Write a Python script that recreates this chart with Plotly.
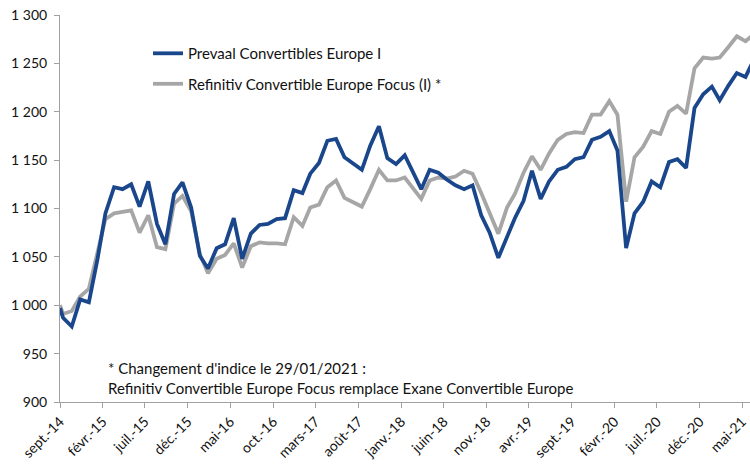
import pandas as pd
import plotly.graph_objects as go

start_date = "2014-09-19"
month_ends = pd.date_range("2014-09-30", "2021-06-30", freq="ME")
dates = [pd.Timestamp(start_date)] + list(month_ends)

prevaal = [
    997,
    987, 978, 1006, 1003,
    1048, 1095, 1122, 1120, 1125, 1102, 1128, 1084, 1063, 1115, 1127, 1101,
    1051, 1038, 1059, 1063, 1090, 1048, 1074, 1083, 1084, 1089, 1090, 1119,
    1116, 1136, 1147, 1170, 1172, 1153, 1147, 1140, 1165, 1185, 1152, 1146,
    1155, 1138, 1120, 1140, 1137, 1130, 1124, 1120, 1124, 1093, 1075, 1049,
    1070, 1090, 1108, 1139, 1110, 1128, 1140, 1143, 1151, 1153, 1171, 1174,
    1180, 1160, 1059, 1095, 1107, 1128, 1122, 1148, 1151, 1142, 1204, 1218,
    1226, 1212, 1227, 1240, 1236, 1254,
]

refinitiv = [
    1000,
    991, 994, 1009, 1017,
    1056, 1089, 1095, 1096, 1098, 1075, 1093, 1060, 1058, 1105, 1113, 1097,
    1053, 1033, 1048, 1052, 1064, 1039, 1061, 1065, 1064, 1064, 1063, 1091,
    1082, 1101, 1104, 1122, 1129, 1111, 1107, 1102, 1120, 1140, 1129, 1129,
    1132, 1122, 1110, 1129, 1132, 1131, 1133, 1139, 1136, 1116, 1095, 1074,
    1101, 1115, 1137, 1154, 1140, 1157, 1171, 1177, 1179, 1178, 1197, 1197,
    1211, 1197, 1107, 1153, 1164, 1180, 1177, 1200, 1206, 1198, 1245, 1256,
    1255, 1256, 1267, 1278, 1273, 1280,
]

tick_labels = ["sept.-14", "févr.-15", "juil.-15", "déc.-15", "mai-16", "oct.-16",
               "mars-17", "août-17", "janv.-18", "juin-18", "nov.-18", "avr.-19",
               "sept.-19", "févr.-20", "juil.-20", "déc.-20", "mai-21"]
tick_dates = [pd.Timestamp(start_date) + pd.DateOffset(months=5 * i) for i in range(len(tick_labels))]

series_names = ["Prevaal Convertibles Europe I", "Refinitiv Convertible Europe Focus (I) *"]
note_text = ("* Changement d'indice le 29/01/2021 :<br>"
             "Refinitiv Convertible Europe Focus remplace Exane Convertible Europe")

FONT = "Lato"
BLUE = "#1a468c"
GREY = "#a6a6a6"
AXIS = "#a0a0a0"
TXT = "#111111"

fig = go.Figure()
# grey drawn first (underneath), blue on top
fig.add_trace(go.Scatter(x=dates, y=refinitiv, mode="lines", name=series_names[1],
                         line=dict(color=GREY, width=3.8), legendgroup="b", legendrank=2))
fig.add_trace(go.Scatter(x=dates, y=prevaal, mode="lines", name=series_names[0],
                         line=dict(color=BLUE, width=3.8), legendgroup="a", legendrank=1))

fig.update_layout(
    width=750, height=465,
    margin=dict(l=60, r=0, t=15, b=63),
    paper_bgcolor="white", plot_bgcolor="white",
    font=dict(family=FONT, size=14, color=TXT),
    separators=", ",
    showlegend=True,
    legend=dict(x=0.1275, y=0.943, xanchor="left", yanchor="top",
                traceorder="grouped", tracegroupgap=8,
                bgcolor="rgba(0,0,0,0)", font=dict(family=FONT, size=15, color=TXT)),
    xaxis=dict(type="date", range=["2014-09-19", "2021-06-16"],
               tickmode="array", tickvals=tick_dates, ticktext=tick_labels,
               tickangle=-45, ticks="outside", ticklen=5, tickcolor=AXIS,
               showline=True, linecolor=AXIS, linewidth=1, showgrid=False, zeroline=False,
               tickfont=dict(family=FONT, size=14, color=TXT)),
    yaxis=dict(range=[900, 1300], dtick=50, tick0=900, separatethousands=True,
               ticks="outside", ticklen=5, tickcolor=AXIS, ticklabelstandoff=4,
               showline=True, linecolor=AXIS, linewidth=1, showgrid=False, zeroline=False,
               tickfont=dict(family=FONT, size=14, color=TXT)),
    annotations=[dict(text=note_text, xref="paper", yref="paper", x=0.067, y=0.007,
                      xanchor="left", yanchor="bottom", align="left", showarrow=False,
                      font=dict(family=FONT, size=15, color=TXT))],
)

fig.write_html("out.html", config={"displayModeBar": False},
               post_script="document.body.style.margin='0px';")
